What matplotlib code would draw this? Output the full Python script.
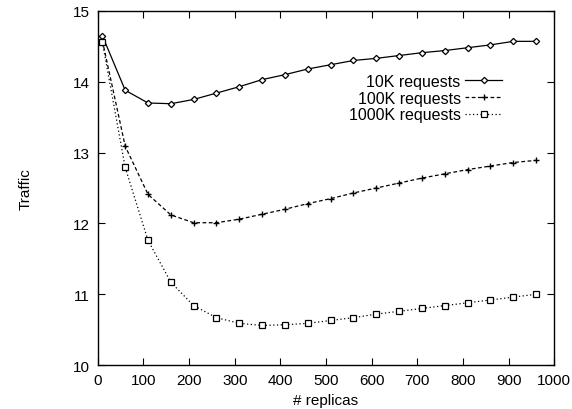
import numpy as np
import matplotlib
matplotlib.use('Agg')
import matplotlib.pyplot as plt

plt.rcParams['font.family'] = ['Liberation Sans', 'DejaVu Sans']
plt.rcParams['font.size'] = 11

# Data
replicas = [10, 60, 110, 160, 210, 260, 310, 360, 410, 460,
            510, 560, 610, 660, 710, 760, 810, 860, 910, 960]
traffic_10k = [14.65, 13.88, 13.70, 13.69, 13.75, 13.84, 13.93, 14.03, 14.10, 14.18,
               14.24, 14.30, 14.33, 14.37, 14.41, 14.44, 14.48, 14.52, 14.57, 14.57]
traffic_100k = [14.58, 13.09, 12.41, 12.12, 12.01, 12.01, 12.06, 12.13, 12.20, 12.28,
                12.35, 12.43, 12.50, 12.57, 12.64, 12.70, 12.76, 12.81, 12.86, 12.89]
traffic_1000k = [14.56, 12.79, 11.76, 11.17, 10.84, 10.67, 10.59, 10.56, 10.57, 10.59,
                 10.63, 10.67, 10.72, 10.76, 10.80, 10.84, 10.88, 10.92, 10.96, 11.00]
labels = ['10K requests', '100K requests', '1000K requests']
xticks = list(range(0, 1001, 100))
yticks = [10, 11, 12, 13, 14, 15]

fig = plt.figure(figsize=(5.72, 4.10), dpi=100)
ax = fig.add_axes([0.171, 0.107, 0.798, 0.864])

ax.plot(replicas, traffic_10k, color='black', linestyle='-', linewidth=0.9,
        marker='D', markersize=3.2, markerfacecolor='white', markeredgewidth=0.9,
        label=labels[0])
ax.plot(replicas, traffic_100k, color='black', linestyle=(0, (3, 2)), linewidth=0.9,
        marker='+', markersize=5, markeredgewidth=1.0, label=labels[1])
ax.plot(replicas, traffic_1000k, color='black', linestyle=(0, (1, 2)), linewidth=0.9,
        marker='s', markersize=4, markerfacecolor='white', markeredgewidth=0.9,
        label=labels[2])

ax.set_xlim(0, 1000)
ax.set_ylim(10, 15)
ax.set_xticks(xticks)
ax.set_yticks(yticks)
ax.tick_params(direction='in', top=True, right=True, length=5, width=0.8, pad=6)
for s in ax.spines.values():
    s.set_linewidth(1.0)

ax.set_xlabel('# replicas', labelpad=4)
ax.set_ylabel('Traffic', labelpad=29)

leg = ax.legend(loc='center right', bbox_to_anchor=(0.886, 0.754), markerfirst=False,
                frameon=False, handlelength=2.3, handletextpad=0.3,
                labelspacing=0.12, borderaxespad=0, borderpad=0, fontsize=11.5)
for t in leg.get_texts():
    t.set_ha('right')

fig.savefig('out.png', dpi=100)
